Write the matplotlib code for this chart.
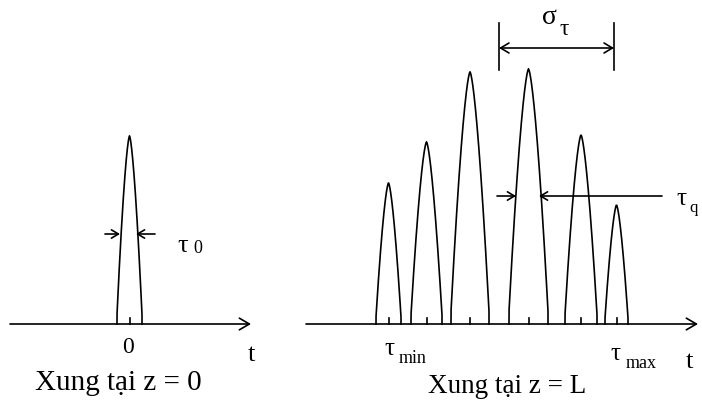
import numpy as np
import matplotlib
matplotlib.use("Agg")
import matplotlib.pyplot as plt

# ---- data (time axis units ~ pixels, amplitude above baseline) ----
left_centers = [129.5]
left_heights = [188]
left_halfwidths = [12.5]

right_centers = [388.5, 426.5, 470, 528.5, 581, 616.5]
right_heights = [141, 182, 252, 255, 189, 119]
right_halfwidths = [12.5, 15.5, 19, 19.5, 16, 11.5]

left_label = "Xung tại z = 0"
right_label = "Xung tại z = L"

FONT = "Liberation Serif"
LW = 1.2
W, H = 702, 401
BASE_PIX = 324  # baseline in pixel rows


def py(y_pix):
    return BASE_PIX - y_pix


fig = plt.figure(figsize=(W / 100, H / 100), dpi=100)
ax = fig.add_axes([0, 0, 1, 1])
ax.set_xlim(0, W)
ax.set_ylim(py(H), py(0))
ax.axis("off")


def pulse(c, h, w):
    u = np.linspace(-1, 1, 401)
    y = h * (0.05 + 0.95 * (1 - np.abs(u) ** 1.5))
    x = c + w * u
    x = np.concatenate([[c - w], x, [c + w]])
    y = np.concatenate([[0], y, [0]])
    ax.plot(x, y, color="black", lw=LW, solid_joinstyle="miter")
    ax.plot([c, c], [0, 6], color="black", lw=LW)


for c, h, w in zip(left_centers, left_heights, left_halfwidths):
    pulse(c, h, w)
for c, h, w in zip(right_centers, right_heights, right_halfwidths):
    pulse(c, h, w)


def arrow(x0, y0, x1, y1, style="->", hl=0.4, hw=0.2, ms=12):
    ax.annotate("", xy=(x1, y1), xytext=(x0, y0),
                arrowprops=dict(arrowstyle=f"{style},head_length={hl},head_width={hw}",
                                lw=LW, color="black", shrinkA=0, shrinkB=0,
                                mutation_scale=ms))


# baselines (time axes)
arrow(10, 0, 251, 0, hl=0.6, hw=0.35, ms=12)
arrow(306, 0, 698, 0, hl=0.6, hw=0.35, ms=12)

# tau_0 arrows
arrow(105, py(234), 120, py(234), hl=0.5, hw=0.3, ms=10)
arrow(155, py(234), 136, py(234), hl=0.5, hw=0.3, ms=10)

# sigma_tau bracket
ax.plot([499, 499], [py(23), py(70)], color="black", lw=LW)
ax.plot([614, 614], [py(23), py(70)], color="black", lw=LW)
arrow(499, py(48), 614, py(48), style="<->", hl=0.5, hw=0.3, ms=12)

# tau_q arrows
arrow(497, py(196), 516, py(196), hl=0.5, hw=0.3, ms=10)
arrow(662, py(196), 539, py(196), hl=0.5, hw=0.3, ms=10)


def txt(x, y_pix, s, size, ha="left"):
    ax.text(x, py(y_pix), s, fontsize=size, family=FONT, ha=ha, va="baseline",
            color="black")


# left panel labels
txt(128, 353, "0", 17, ha="center")
txt(251, 361, "t", 19, ha="center")
txt(118, 390, left_label, 21, ha="center")
txt(177, 252, "τ", 19)
txt(193, 253, "0", 13)

# right panel labels
txt(542, 24, "σ", 20)
txt(560, 35, "τ", 17)
txt(384, 355, "τ", 18)
txt(399, 363, "min", 13)
txt(610, 360, "τ", 18)
txt(626, 368, "max", 13)
txt(689, 368, "t", 19, ha="center")
txt(507, 393, right_label, 19.5, ha="center")
txt(676, 205, "τ", 18)
txt(689, 212, "q", 12)

fig.savefig("out.png", dpi=100)
